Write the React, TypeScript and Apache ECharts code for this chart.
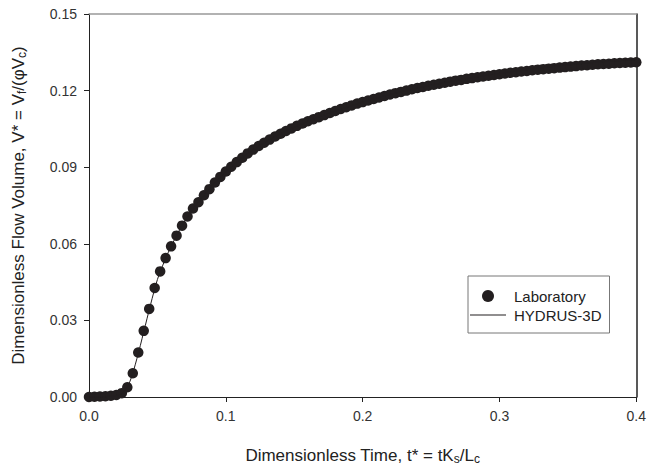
import React, { useEffect, useRef } from "react";
import * as echarts from "echarts";

const labTimes: number[] = [
  0.000, 0.004, 0.008, 0.012, 0.016, 0.020, 0.024, 0.028, 0.032, 0.036,
  0.040, 0.044, 0.048, 0.052, 0.056, 0.060, 0.064, 0.068, 0.072, 0.076,
  0.080, 0.084, 0.088, 0.092, 0.096, 0.100, 0.104, 0.108, 0.112, 0.116,
  0.120, 0.124, 0.128, 0.132, 0.136, 0.140, 0.144, 0.148, 0.152, 0.156,
  0.160, 0.164, 0.168, 0.172, 0.176, 0.180, 0.184, 0.188, 0.192, 0.196,
  0.200, 0.204, 0.208, 0.212, 0.216, 0.220, 0.224, 0.228, 0.232, 0.236,
  0.240, 0.244, 0.248, 0.252, 0.256, 0.260, 0.264, 0.268, 0.272, 0.276,
  0.280, 0.284, 0.288, 0.292, 0.296, 0.300, 0.304, 0.308, 0.312, 0.316,
  0.320, 0.324, 0.328, 0.332, 0.336, 0.340, 0.344, 0.348, 0.352, 0.356,
  0.360, 0.364, 0.368, 0.372, 0.376, 0.380, 0.384, 0.388, 0.392, 0.396,
  0.400,
];

const labVolumes: number[] = [
  0.0000, 0.0001, 0.0002, 0.0003, 0.0005, 0.0008, 0.0015, 0.0038, 0.0093, 0.0174,
  0.0259, 0.0345, 0.0427, 0.0492, 0.0544, 0.0590, 0.0632, 0.0671, 0.0707, 0.0738,
  0.0763, 0.0790, 0.0814, 0.0840, 0.0862, 0.0883, 0.0902, 0.0920, 0.0937, 0.0954,
  0.0969, 0.0983, 0.0996, 0.1008, 0.1020, 0.1031, 0.1042, 0.1052, 0.1062, 0.1071,
  0.1080, 0.1088, 0.1096, 0.1104, 0.1112, 0.1120, 0.1128, 0.1135, 0.1142, 0.1149,
  0.1155, 0.1161, 0.1167, 0.1173, 0.1179, 0.1185, 0.1190, 0.1195, 0.1200, 0.1205,
  0.1210, 0.1214, 0.1219, 0.1223, 0.1227, 0.1231, 0.1235, 0.1239, 0.1242, 0.1246,
  0.1249, 0.1252, 0.1255, 0.1258, 0.1261, 0.1264, 0.1267, 0.1270, 0.1272, 0.1275,
  0.1277, 0.1280, 0.1282, 0.1284, 0.1286, 0.1288, 0.1290, 0.1292, 0.1294, 0.1296,
  0.1298, 0.1299, 0.1301, 0.1303, 0.1304, 0.1305, 0.1307, 0.1308, 0.1309, 0.1310,
  0.1311,
];

const hydrusTimes: number[] = [
  0.000, 0.010, 0.020, 0.025, 0.030, 0.035, 0.040, 0.045, 0.050, 0.055,
  0.060, 0.070, 0.080, 0.090, 0.100, 0.120, 0.140, 0.160, 0.180, 0.200,
  0.220, 0.240, 0.260, 0.280, 0.300, 0.320, 0.340, 0.360, 0.380, 0.400,
];

const hydrusVolumes: number[] = [
  0.0000, 0.0001, 0.0006, 0.0016, 0.0062, 0.0150, 0.0255, 0.0362, 0.0460, 0.0530,
  0.0590, 0.0690, 0.0763, 0.0828, 0.0883, 0.0969, 0.1031, 0.1080, 0.1120, 0.1155,
  0.1185, 0.1210, 0.1232, 0.1251, 0.1267, 0.1282, 0.1295, 0.1306, 0.1315, 0.1322,
];

const xTicks = { min: 0, max: 0.4, interval: 0.1 };
const yTicks = { min: 0, max: 0.15, interval: 0.03 };

const FONT = "'Liberation Sans', Arial, sans-serif";

export default function App() {
  const ref = useRef<HTMLDivElement>(null);

  useEffect(() => {
    if (!ref.current) return;
    const chart = echarts.init(ref.current, undefined, { renderer: "svg" });
    const labData = labTimes.map((t, i) => [t, labVolumes[i]]);
    const hydData = hydrusTimes.map((t, i) => [t, hydrusVolumes[i]]);

    const subRich = {
      sub: { fontSize: 12, padding: [7, 0, 0, 0], fontFamily: FONT, color: "#222" },
    };

    chart.setOption({
      animation: false,
      backgroundColor: "#ffffff",
      textStyle: { fontFamily: FONT },
      grid: { left: 89, right: 11, top: 14, bottom: 72, containLabel: false },
      legend: {
        orient: "vertical",
        left: 468,
        top: 276,
        data: [
          { name: "Laboratory", icon: "circle" },
          { name: "HYDRUS-3D", icon: "path://M0,0 H36 V1 H0 Z" },
        ],
        itemWidth: 36,
        itemHeight: 12,
        itemGap: 1,
        padding: [11, 8, 9, 2],
        borderColor: "#777",
        borderWidth: 1,
        borderRadius: 0,
        backgroundColor: "#fff",
        textStyle: {
          fontFamily: FONT,
          fontSize: 15,
          color: "#222",
          lineHeight: 18,
          padding: [0, 0, 0, 3],
        },
      },
      xAxis: [
        {
          type: "value",
          min: xTicks.min,
          max: xTicks.max,
          interval: xTicks.interval,
          name: "Dimensionless Time, t* = tK{sub|s}/L{sub|c}",
          nameLocation: "middle",
          nameGap: 49,
          nameTextStyle: {
            fontFamily: FONT,
            fontSize: 17,
            color: "#222",
            rich: subRich,
          },
          axisLine: { show: true, onZero: false, lineStyle: { color: "#222", width: 1 } },
          axisTick: { show: true, length: 5, inside: false, lineStyle: { color: "#222" } },
          axisLabel: {
            margin: 12,
            fontFamily: FONT,
            fontSize: 14,
            color: "#333",
            formatter: (v: number) => v.toFixed(1),
          },
          splitLine: { show: false },
        },
        {
          type: "value",
          position: "top",
          min: xTicks.min,
          max: xTicks.max,
          interval: xTicks.interval,
          axisLine: { show: true, onZero: false, lineStyle: { color: "#999", width: 1.5 } },
          axisTick: { show: false },
          axisLabel: { show: false },
          splitLine: { show: false },
        },
      ],
      yAxis: [
        {
          type: "value",
          min: yTicks.min,
          max: yTicks.max,
          interval: yTicks.interval,
          name: "Dimensionless Flow Volume, V* = V{sub|f}/(φV{sub|c})",
          nameLocation: "middle",
          nameGap: 61,
          nameTextStyle: {
            fontFamily: FONT,
            fontSize: 17,
            color: "#222",
            rich: subRich,
          },
          axisLine: { show: true, onZero: false, lineStyle: { color: "#222", width: 1 } },
          axisTick: { show: true, length: 5, inside: false, lineStyle: { color: "#222" } },
          axisLabel: {
            margin: 12,
            fontFamily: FONT,
            fontSize: 14,
            color: "#333",
            formatter: (v: number) => v.toFixed(2),
          },
          splitLine: { show: false },
        },
        {
          type: "value",
          position: "right",
          min: yTicks.min,
          max: yTicks.max,
          interval: yTicks.interval,
          axisLine: { show: true, onZero: false, lineStyle: { color: "#222", width: 1.5 } },
          axisTick: { show: false },
          axisLabel: { show: false },
          splitLine: { show: false },
        },
      ],
      series: [
        {
          name: "Laboratory",
          type: "scatter",
          data: labData,
          symbol: "circle",
          symbolSize: 10.5,
          itemStyle: { color: "#231f20", opacity: 1 },
          z: 2,
        },
        {
          name: "HYDRUS-3D",
          type: "line",
          data: hydData,
          symbol: "none",
          showSymbol: false,
          smooth: 0.3,
          lineStyle: { color: "#231f20", width: 1 },
          itemStyle: { color: "#231f20" },
          z: 3,
        },
      ],
    });

    return () => chart.dispose();
  }, []);

  return (
    <div
      ref={ref}
      style={{ position: "fixed", left: 0, top: 0, width: 649, height: 470 }}
    />
  );
}
